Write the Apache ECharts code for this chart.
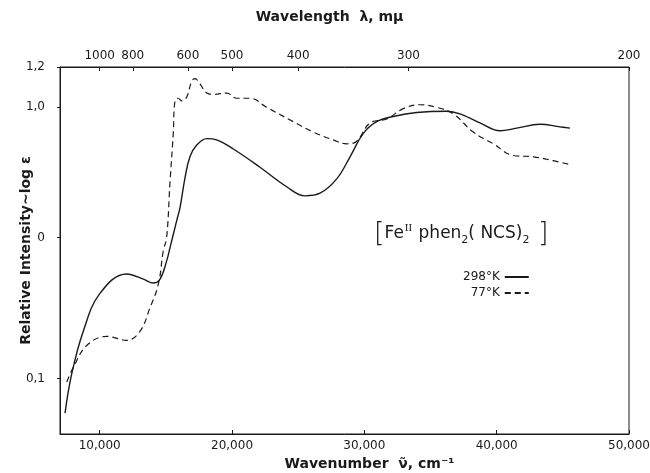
<!DOCTYPE html>
<html><head><meta charset="utf-8">
<script src="https://cdn.jsdelivr.net/npm/echarts@6/dist/echarts.min.js"></script>
<style>html,body{margin:0;padding:0;background:#fff}#c{width:650px;height:473px}</style>
</head><body><div id="c"></div>
<script>
// Wavenumber (cm^-1) and relative log ε
var warmWavenumber = [7380,7880,8760,10020,12040,13300,14050,14560,15060,15310,15820,16070,16450,16820,17330,18090,18840,20100,22110,24130,25520,26650,27910,28920,29920,30930,32190,33960,36220,37230,38740,40250,41510,43270,44790,45540];
var warmLogE = [-1.35,-1.05,-0.72,-0.43,-0.28,-0.32,-0.35,-0.32,-0.18,-0.08,0.13,0.23,0.46,0.62,0.71,0.76,0.75,0.68,0.54,0.39,0.32,0.34,0.45,0.62,0.80,0.89,0.93,0.96,0.97,0.95,0.88,0.82,0.84,0.87,0.85,0.84];
var coldWavenumber = [7510,8000,9020,10530,12040,13050,13800,14430,14810,15060,15310,15560,15690,15940,16200,16580,16950,17200,17580,18090,18590,19600,20350,21360,22620,24630,26140,27650,28670,29420,30430,31690,32940,34210,35470,36720,38230,39750,41260,42770,44280,45540];
var coldLogE = [-1.11,-1.00,-0.83,-0.76,-0.79,-0.72,-0.54,-0.36,-0.10,0.00,0.42,0.80,1.05,1.07,1.05,1.08,1.20,1.22,1.18,1.11,1.10,1.11,1.07,1.07,1.00,0.89,0.81,0.75,0.72,0.74,0.88,0.91,0.99,1.02,1.00,0.95,0.81,0.72,0.63,0.62,0.59,0.56];
var seriesNames = ['298°K', '77°K'];
var bottomTicks = [10000, 20000, 30000, 40000, 50000];
var wavelengthTicks = [1000, 800, 600, 500, 400, 300, 200];
var yTickValues = [1.31, 1.0, 0, -1.085];
var yTickLabels = ['1,2', '1,0', '0', '0,1'];
var xMin = 7000, xMax = 50000, yMin = -1.51, yMax = 1.31;

function pairs(xs, ys){ return xs.map(function(x,i){ return [x, ys[i]]; }); }
var topTicks = wavelengthTicks.map(function(l){ return 1e7 / l; });
var font = 'DejaVu Sans';
var ink = '#1a1a1a';

var chart = echarts.init(document.getElementById('c'), null, {renderer:'canvas'});
chart.setOption({
  animation: false,
  backgroundColor: '#fff',
  grid: {left: 60, right: 21, top: 67, bottom: 39, containLabel: false, outerBoundsMode: 'none',
    show: true, borderColor: ink, borderWidth: 1, backgroundColor: 'transparent'},
  xAxis: [{
    type: 'value', min: xMin, max: xMax, position: 'bottom',
    name: 'Wavenumber  ν̃, cm⁻¹', nameLocation: 'middle', nameGap: 23, nameMoveOverlap: false,
    nameTextStyle: {fontFamily: font, fontSize: 14, fontWeight: 'bold', color: ink, padding:[0,0,0,50]},
    axisLine: {onZero: false, lineStyle: {color: ink}},
    axisTick: {inside: true, length: 4, lineStyle: {color: ink}, customValues: bottomTicks},
    axisLabel: {fontFamily: font, fontSize: 12, color: ink, margin: 6, customValues: bottomTicks,
      formatter: function(v){ return String(Math.round(v)).replace(/(\d)(\d{3})$/, '$1,$2'); }},
    splitLine: {show: false}
  },{
    type: 'value', min: xMin, max: xMax, position: 'top',
    name: 'Wavelength  λ, mμ', nameLocation: 'middle', nameGap: 43, nameMoveOverlap: false,
    nameTextStyle: {fontFamily: font, fontSize: 14, fontWeight: 'bold', color: ink, padding:[0,30,0,0]},
    axisLine: {onZero: false, lineStyle: {color: ink}},
    axisTick: {inside: true, length: 4, lineStyle: {color: ink}, customValues: topTicks},
    axisLabel: {fontFamily: font, fontSize: 12, color: ink, margin: 5, customValues: topTicks,
      formatter: function(v){ return String(Math.round(1e7 / v)); }},
    splitLine: {show: false}
  }],
  yAxis: {
    type: 'value', min: yMin, max: yMax,
    name: 'Relative Intensity~log ε', nameLocation: 'middle', nameGap: 27, nameRotate: 90, nameMoveOverlap: false,
    nameTextStyle: {fontFamily: font, fontSize: 14, fontWeight: 'bold', color: ink},
    axisLine: {show: true, onZero: false, lineStyle: {color: ink}},
    axisTick: {show: true, length: 3, lineStyle: {color: ink}, customValues: yTickValues},
    axisLabel: {fontFamily: font, fontSize: 12, color: ink, margin: 15, customValues: yTickValues,
      formatter: function(v){ var i = yTickValues.indexOf(v); return i >= 0 ? yTickLabels[i] : ''; }},
    splitLine: {show: false}
  },
  legend: {
    orient: 'vertical', left: 458, top: 266, align: 'right', itemWidth: 24, itemHeight: 8, itemGap: 4,
    itemStyle: {opacity: 0},
    textStyle: {fontFamily: font, fontSize: 12, color: ink},
    data: [{name: seriesNames[0]}, {name: seriesNames[1]}]
  },
  graphic: [{
    type: 'text', left: 374, top: 219,
    style: {
      text: '{b|[}{t|Fe}{sup|II}{t| phen}{sub|2}{t|( NCS)}{sub|2}{b| ]}',
      rich: {
        b: {fontFamily: font, fontSize: 27, fontWeight: 200, fill: ink, lineHeight: 30, verticalAlign: 'middle'},
        t: {fontFamily: font, fontSize: 17, fill: ink, lineHeight: 30, verticalAlign: 'middle'},
        sup: {fontFamily: 'Liberation Serif', fontSize: 11, fill: ink, lineHeight: 30, verticalAlign: 'top', padding: [4,1,0,1]},
        sub: {fontFamily: font, fontSize: 11, fill: ink, lineHeight: 30, verticalAlign: 'bottom', padding: [0,0,3,0]}
      }
    }
  }],
  series: [{
    name: seriesNames[0], type: 'line', xAxisIndex: 0, smooth: 0.4, symbol: 'none',
    lineStyle: {color: ink, width: 1.4, type: 'solid'}, itemStyle: {color: ink},
    data: pairs(warmWavenumber, warmLogE)
  },{
    name: seriesNames[1], type: 'line', xAxisIndex: 0, smooth: 0.4, symbol: 'none',
    lineStyle: {color: ink, width: 1.2, type: [6, 4]}, itemStyle: {color: ink},
    data: pairs(coldWavenumber, coldLogE)
  }]
});
</script></body></html>
